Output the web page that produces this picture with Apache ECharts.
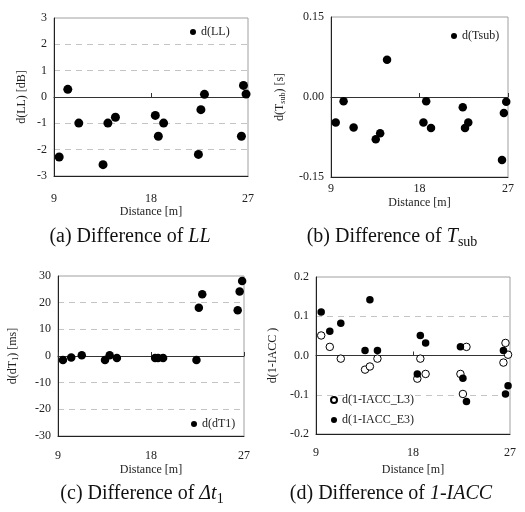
<!DOCTYPE html>
<html>
<head>
<meta charset="utf-8">
<script src="https://cdn.jsdelivr.net/npm/echarts@6/dist/echarts.min.js"></script>
<style>
  html, body { margin: 0; padding: 0; background: #fff; }
  #chartDiv { width: 525px; height: 512px; }
</style>
</head>
<body>
<div id="chartDiv"></div>
<script>
// 测点距离 [m]
var distances = [9.48, 10.28, 11.3, 13.55, 14.0, 14.7, 18.4, 18.68, 19.17, 22.4, 22.63, 22.96, 26.39, 26.58, 26.82];
// (a) d(LL) [dB]
var dLL = [-2.28, 0.29, -0.99, -2.57, -0.99, -0.77, -0.70, -1.49, -0.99, -2.18, -0.48, 0.10, -1.49, 0.44, 0.11];
// (b) d(Tsub) [s]
var dTsub = [-0.048, -0.008, -0.057, -0.079, -0.068, 0.070, -0.048, -0.008, -0.058, -0.019, -0.058, -0.048, -0.118, -0.030, -0.009];
// (c) d(dT1) [ms]
var dT1 = [-1.5, -0.6, 0.25, -1.5, 0.25, -0.75, -0.75, -0.75, -0.75, -1.5, 18.1, 23.2, 17.2, 24.2, 28.1];
// (d) d(1-IACC)
var dIaccL3 = [0.051, 0.022, -0.008, -0.036, -0.028, -0.008, -0.059, -0.008, -0.047, -0.047, -0.098, 0.022, -0.018, 0.032, 0.002];
var dIaccE3 = [0.111, 0.062, 0.082, 0.013, 0.142, 0.013, -0.047, 0.051, 0.032, 0.022, -0.058, -0.117, 0.013, -0.098, -0.077];

var xTicks = [9, 18, 27];

var FONT = 'Liberation Serif';
var chartDiv = echarts.init(document.getElementById('chartDiv'));

function pairs(ys) {
    return distances.map(function (d, i) { return [d, ys[i]]; });
}

// 面板设置
var panels = [
    {grid: {left: 54, top: 18, width: 194, height: 158}, min: -3, max: 3, step: 1, dec: 0,
     yName: 'd(LL) [dB]', yGap: 26, xLabelMargin: 17, xNameGap: 30},
    {grid: {left: 331, top: 17, width: 177, height: 160}, min: -0.15, max: 0.15, step: 0.15, dec: 2,
     yName: '{n|d(T}{s|sub}{n|) [s]}', yGap: 44, xLabelMargin: 6, xNameGap: 20},
    {grid: {left: 58, top: 276, width: 186, height: 160}, min: -30, max: 30, step: 10, dec: 0,
     yName: '{n|d(dT}{s|1}{n|) [ms]}', yGap: 38, xLabelMargin: 14, xNameGap: 28},
    {grid: {left: 316, top: 277, width: 194, height: 157}, min: -0.2, max: 0.2, step: 0.1, dec: 1,
     yName: 'd(1-IACC )', yGap: 37, xLabelMargin: 13, xNameGap: 30}
];

var grids = [], xAxes = [], yAxes = [];
panels.forEach(function (p, i) {
    grids.push(Object.assign({show: true, borderColor: '#a0a0a0', borderWidth: 1}, p.grid));
    // 底部坐标轴（标签）
    xAxes.push({
        gridIndex: i, type: 'value', min: 9, max: 27, interval: 9, position: 'bottom',
        axisLine: {onZero: false, lineStyle: {color: '#222', width: 1}},
        axisTick: {show: false},
        splitLine: {show: false},
        axisLabel: {margin: p.xLabelMargin, color: '#222', fontFamily: FONT, fontSize: 12,
            customValues: xTicks},
        name: 'Distance [m]', nameLocation: 'middle', nameGap: p.xNameGap,
        nameTextStyle: {color: '#222', fontFamily: FONT, fontSize: 12}
    });
    // 零线
    xAxes.push({
        gridIndex: i, type: 'value', min: 9, max: 27, interval: 9, position: 'top',
        axisLine: {onZero: true, lineStyle: {color: '#333', width: 1}},
        axisTick: {show: true, length: 4, lineStyle: {color: '#333'}},
        axisLabel: {show: false},
        splitLine: {show: false}
    });
    yAxes.push({
        gridIndex: i, type: 'value', min: p.min, max: p.max, interval: p.step,
        axisLine: {show: true, lineStyle: {color: '#222', width: 1}},
        axisTick: {show: false},
        axisLabel: {margin: 7, color: '#222', fontFamily: FONT, fontSize: 12,
            formatter: function (v) { return v.toFixed(p.dec); }},
        splitLine: {show: p.step !== 0.15, showMinLine: false, showMaxLine: false,
            lineStyle: {color: '#c4c4c4', type: [6, 5], width: 1}},
        name: p.yName, nameLocation: 'middle', nameGap: p.yGap, nameRotate: 90,
        nameTextStyle: {color: '#222', fontFamily: FONT, fontSize: 12,
            rich: {
                n: {fontFamily: FONT, fontSize: 12, color: '#222'},
                s: {fontFamily: FONT, fontSize: 8, color: '#222', verticalAlign: 'bottom', padding: [6, 0, 0, 0]}
            }}
    });
});

var filled = {color: '#000', opacity: 1};
var open = {color: '#fff', borderColor: '#000', borderWidth: 1, opacity: 1};

var series = [
    {name: 'd(LL)', type: 'scatter', xAxisIndex: 0, yAxisIndex: 0, symbolSize: 9, itemStyle: filled, data: pairs(dLL)},
    {name: 'd(Tsub)', type: 'scatter', xAxisIndex: 2, yAxisIndex: 1, symbolSize: 8.5, itemStyle: filled, data: pairs(dTsub)},
    {name: 'd(dT1)', type: 'scatter', xAxisIndex: 4, yAxisIndex: 2, symbolSize: 8.5, itemStyle: filled, data: pairs(dT1)},
    {name: 'd(1-IACC_L3)', type: 'scatter', xAxisIndex: 6, yAxisIndex: 3, symbolSize: 7.5, itemStyle: open, data: pairs(dIaccL3)},
    {name: 'd(1-IACC_E3)', type: 'scatter', xAxisIndex: 6, yAxisIndex: 3, symbolSize: 7.5, itemStyle: filled, data: pairs(dIaccE3)}
];

var legendText = {color: '#222', fontFamily: FONT, fontSize: 12, lineHeight: 14};
function legendAt(names, left, top, orient) {
    return {data: names, left: left, top: top, orient: orient || 'horizontal', padding: 0,
        itemWidth: 6, itemHeight: 6, itemGap: 6, icon: 'circle', textStyle: legendText,
        selectedMode: false};
}

// 子图标题
var capRich = {
    n: {fontFamily: FONT, fontSize: 20, color: '#111'},
    i: {fontFamily: FONT, fontSize: 20, fontStyle: 'italic', color: '#111'},
    s: {fontFamily: FONT, fontSize: 14, color: '#111', verticalAlign: 'bottom', padding: [10, 0, 0, 0]}
};
function caption(text, x, y) {
    return {type: 'text', x: x, y: y,
        style: {text: text, rich: capRich, align: 'center', verticalAlign: 'middle',
            font: '20px "Liberation Serif"', fill: '#111'}};
}

var option = {
    animation: false,
    backgroundColor: '#fff',
    grid: grids,
    xAxis: xAxes,
    yAxis: yAxes,
    legend: [
        legendAt(['d(LL)'], 190, 25),
        legendAt(['d(Tsub)'], 451, 29),
        legendAt(['d(dT1)'], 191, 417),
        legendAt(['d(1-IACC_L3)', 'd(1-IACC_E3)'], 330, 393, 'vertical')
    ],
    series: series,
    graphic: [
        caption('{n|(a) Difference of }{i|LL}', 130, 237),
        caption('{n|(b) Difference of }{i|T}{s|sub}', 392, 237),
        caption('{n|(c) Difference of }{i|Δt}{s|1}', 142, 494),
        caption('{n|(d) Difference of }{i|1-IACC}', 391, 494)
    ]
};
chartDiv.setOption(option);
</script>
</body>
</html>
